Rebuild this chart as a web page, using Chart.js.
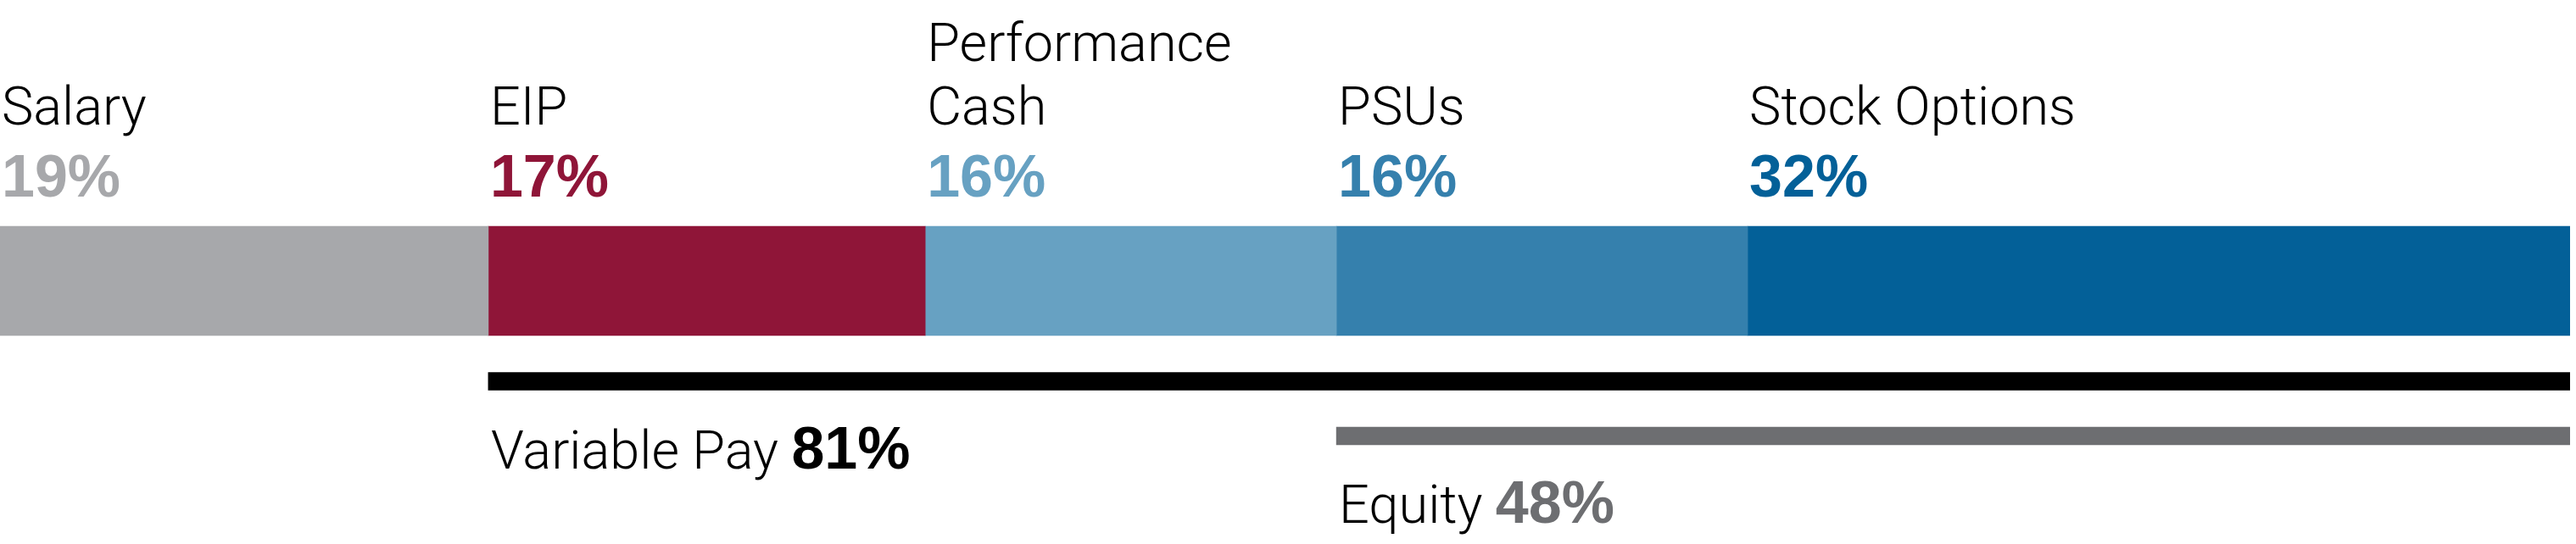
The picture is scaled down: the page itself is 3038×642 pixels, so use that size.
<!DOCTYPE html>
<html>
<head>
<meta charset="utf-8">
<script src="https://cdn.jsdelivr.net/npm/chart.js@4.4.1/dist/chart.umd.min.js"></script>
<style>
  html, body { margin: 0; padding: 0; background: #ffffff; }
  #wrap { width: 3038px; height: 642px; position: relative; }
</style>
</head>
<body>
<div id="wrap"><canvas id="chart"></canvas></div>
<script>
// ---- data ----
const rowLabels = ['Pay mix'];
const categories = ['Salary', 'EIP', 'Performance Cash', 'PSUs', 'Stock Options'];
const categoryLines = [['Salary'], ['EIP'], ['Performance', 'Cash'], ['PSUs'], ['Stock Options']];
const shares = [19, 17, 16, 16, 32];
const groupNames = ['Variable Pay', 'Equity'];
const groupFirstComponent = ['EIP', 'PSUs'];

// ---- styles ----
const segmentColors = ['#a7a8ab', '#8f1538', '#67a1c2', '#3580ad', '#036098'];
const groupBarColors = ['#000000', '#6d6e71'];
const groupValueColors = ['#000000', '#6d6e71'];
const LABEL_FONT = '300 63px Roboto, "Liberation Sans", sans-serif';
const VALUE_FONT = 'bold 70px "Liberation Sans", Arial, sans-serif';

// ---- derived from data ----
const total = shares.reduce((a, b) => a + b, 0);
const groupRanges = groupFirstComponent.map(name => {
  const idx = categories.indexOf(name);
  const start = shares.slice(0, idx).reduce((a, b) => a + b, 0);
  return [start, total];
});
const groupValues = groupRanges.map(r => r[1] - r[0]);

const datasets = categories.map((c, i) => ({
  label: c,
  data: [shares[i]],
  backgroundColor: segmentColors[i],
  borderWidth: 0,
  barThickness: 129,
  grouped: false,
  xAxisID: 'x',
  yAxisID: 'yMix',
  stack: 'mix'
}));
datasets.push({
  label: 'Groups',
  data: groupRanges,
  backgroundColor: groupBarColors,
  borderWidth: 0,
  barThickness: 21,
  grouped: false,
  xAxisID: 'x2',
  yAxisID: 'yGroup'
});

const labelPlugin = {
  id: 'segmentLabels',
  afterDatasetsDraw(chart) {
    const ctx = chart.ctx;
    ctx.save();
    ctx.textBaseline = 'alphabetic';
    ctx.textAlign = 'left';
    categories.forEach((cat, i) => {
      const el = chart.getDatasetMeta(i).data[0];
      const left = Math.min(el.x, el.base) + 2;
      const top = el.y - el.height / 2;
      const lines = categoryLines[i];
      ctx.font = LABEL_FONT;
      ctx.fillStyle = '#000000';
      lines.forEach((ln, k) => {
        ctx.fillText(ln, left, top - 120 - (lines.length - 1 - k) * 75);
      });
      ctx.font = VALUE_FONT;
      ctx.fillStyle = segmentColors[i];
      ctx.fillText(shares[i] + '%', left, top - 35);
    });
    const gm = chart.getDatasetMeta(categories.length);
    groupNames.forEach((g, j) => {
      const el = gm.data[j];
      const left = Math.min(el.x, el.base) + 3;
      const bottom = el.y + el.height / 2;
      ctx.font = LABEL_FONT;
      ctx.fillStyle = '#000000';
      const t = g + ' ';
      ctx.fillText(t, left, bottom + 92);
      const w = ctx.measureText(t).width;
      ctx.font = VALUE_FONT;
      ctx.fillStyle = groupValueColors[j];
      ctx.fillText(groupValues[j] + '%', left + w, bottom + 92);
    });
    ctx.restore();
  }
};

new Chart(document.getElementById('chart'), {
  type: 'bar',
  data: { labels: rowLabels, datasets },
  options: {
    indexAxis: 'y',
    responsive: true,
    maintainAspectRatio: false,
    animation: false,
    events: [],
    layout: { padding: { top: 245.25, bottom: 95.25, left: 0, right: 7 } },
    plugins: { legend: { display: false }, tooltip: { enabled: false }, title: { display: false } },
    scales: {
      x: { type: 'linear', min: 0, max: total, stacked: true, display: false },
      x2: { type: 'linear', min: 0, max: total, stacked: false, display: false, position: 'bottom' },
      yMix: { type: 'category', labels: rowLabels, stacked: true, display: false, position: 'left',
              offset: true, stack: 'rows', stackWeight: 172.5, weight: 2 },
      yGroup: { type: 'category', labels: groupNames, display: false, position: 'left',
                offset: true, stack: 'rows', stackWeight: 129, weight: 1 }
    }
  },
  plugins: [labelPlugin]
});
</script>
</body>
</html>
